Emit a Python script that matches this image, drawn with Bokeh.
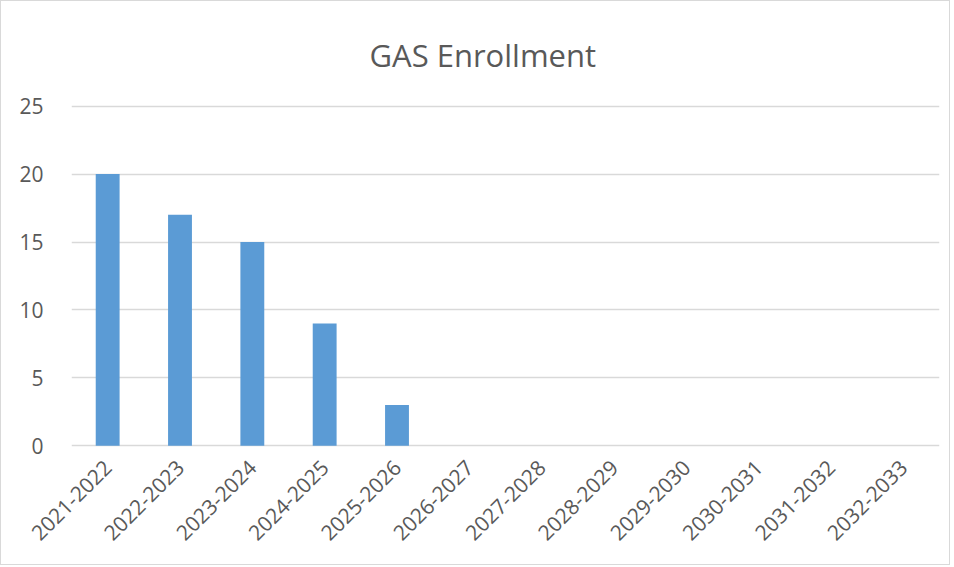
from bokeh.plotting import figure
from bokeh.embed import file_html
from bokeh.resources import INLINE
from bokeh.models import FixedTicker
import math

years = ["2021-2022", "2022-2023", "2023-2024", "2024-2025", "2025-2026", "2026-2027",
         "2027-2028", "2028-2029", "2029-2030", "2030-2031", "2031-2032", "2032-2033"]
enrollment = [20, 17, 15, 9, 3, 0, 0, 0, 0, 0, 0, 0]
y_ticks = [0, 5, 10, 15, 20, 25]

p = figure(x_range=years, y_range=(-0.12, 25.12), width=950, height=565,
           output_backend="svg", toolbar_location=None,
           min_border_left=70, min_border_right=12, min_border_top=103, min_border_bottom=119)
p.styles = {"border": "1px solid #d9d9d9"}

p.vbar(x=years, top=enrollment, width=0.33, color="#5b9bd5", line_color=None)

p.title.text = "GAS Enrollment"
p.title.align = "left"
p.title.offset = 298
p.title.text_font = "Open Sans"
p.title.text_font_size = "31px"
p.title.text_font_style = "normal"
p.title.text_color = "#595959"
p.title.standoff = 58

p.outline_line_color = None
p.xgrid.grid_line_color = None
p.ygrid.grid_line_color = "#d9d9d9"
p.ygrid.grid_line_width = 1.5
p.yaxis.ticker = FixedTicker(ticks=y_ticks)

for ax in (p.xaxis, p.yaxis):
    ax.axis_line_color = None
    ax.major_tick_line_color = None
    ax.minor_tick_line_color = None
    ax.major_label_text_font = "Open Sans"
    ax.major_label_text_font_size = "21px"
    ax.major_label_text_color = "#595959"

p.yaxis.major_label_standoff = 22
p.xaxis.major_label_orientation = math.pi / 4
p.xaxis.major_label_standoff = 10
p.x_range.range_padding = 0

open("out.html", "w").write(file_html(p, INLINE))
